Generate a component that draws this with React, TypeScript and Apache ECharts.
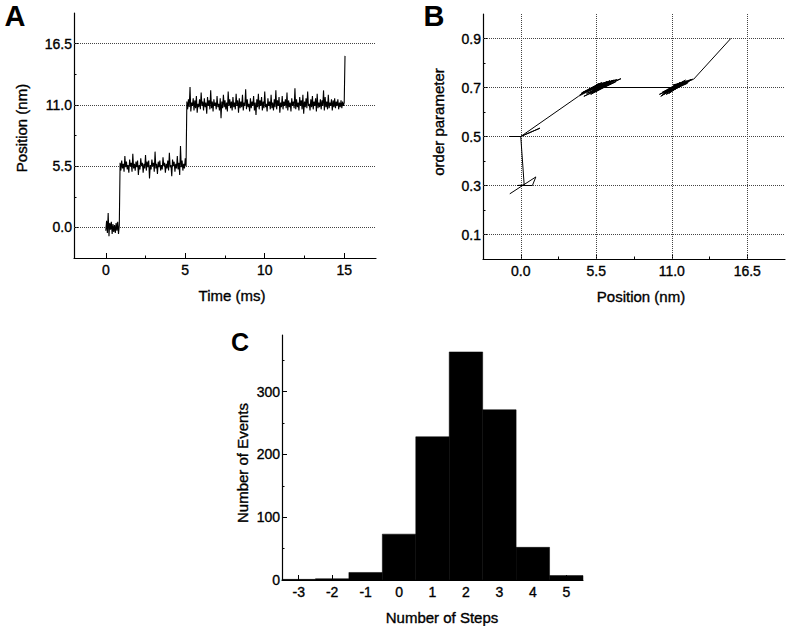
import { useEffect, useRef } from "react";
import * as echarts from "echarts";

const FONT = "'Liberation Sans', Arial, Helvetica, sans-serif";

// ---------- Panel A: position trace (sampled every A_STEP ms) ----------
const A_STEP = 0.05;
const aLevel0 = [-0.3, 0.6, -0.5, 1.3, -0.8, 0.4, -0.2, 0.5, -0.6, 0.3, -0.4, 0.2, -0.5, 0.4, -0.3, 0.5, -0.6, 0.2];
const aLevel1 = [
  5.8, 5.1, 6.0, 5.3, 5.7, 5.0, 6.4, 5.4, 5.9, 5.2, 5.6, 4.9, 6.1, 5.5, 5.8, 5.0, 6.6, 5.3, 5.7, 5.1,
  5.9, 5.4, 6.0, 4.7, 5.6, 5.2, 6.2, 5.5, 5.8, 4.9, 5.7, 5.3, 6.5, 5.1, 5.9, 5.4, 6.0, 4.4, 5.6, 5.2,
  6.1, 5.5, 5.8, 5.0, 6.8, 5.3, 5.7, 4.8, 5.9, 5.4, 6.0, 5.1, 5.6, 5.2, 6.3, 5.5, 5.8, 4.9, 5.7, 5.3,
  6.0, 5.1, 6.7, 5.4, 5.6, 4.6, 6.1, 5.5, 5.9, 5.0, 5.7, 5.3, 6.4, 5.2, 5.8, 4.7, 7.3, 5.4, 6.0, 5.1,
  5.7, 5.3, 6.2, 5.5,
];
const aLevel2 = [
  11.3, 10.6, 11.5, 10.8, 12.6, 10.4, 11.2, 10.9, 11.6, 10.5, 11.4, 10.7, 11.8, 10.3, 11.1, 10.8, 11.5, 10.6, 12.1, 10.9,
  11.3, 10.5, 11.6, 10.8, 11.2, 10.2, 11.7, 10.9, 11.4, 10.6, 12.3, 10.7, 11.3, 10.4, 11.5, 10.9, 11.2, 10.6, 11.8, 10.8,
  11.1, 10.5, 11.6, 9.8, 11.3, 10.7, 11.9, 10.8, 11.4, 10.6, 11.2, 10.4, 12.2, 10.9, 11.5, 10.7, 11.3, 10.5, 11.7, 10.8,
  11.2, 10.6, 12.0, 10.9, 11.4, 10.3, 11.6, 10.7, 11.3, 10.8, 11.9, 10.5, 11.2, 10.9, 12.4, 10.6, 11.5, 10.8, 11.1, 10.4,
  11.6, 10.7, 11.3, 10.9, 11.8, 10.5, 11.2, 10.1, 11.5, 10.8, 12.0, 10.6, 11.4, 10.9, 11.7, 10.5, 11.3, 10.7, 12.2, 10.8,
  11.1, 10.4, 11.6, 10.9, 11.3, 10.6, 11.9, 10.7, 11.2, 10.5, 11.5, 10.8, 12.3, 10.6, 11.4, 10.9, 11.7, 10.3, 11.2, 10.8,
  11.8, 10.6, 11.3, 10.9, 11.5, 10.7, 12.1, 10.5, 11.4, 10.8, 11.2, 10.4, 11.6, 10.9, 11.3, 10.7, 12.5, 10.6, 11.5, 10.8,
  11.2, 10.5, 11.7, 10.9, 11.4, 10.6, 11.9, 10.2, 11.3, 10.8, 11.6, 10.7, 12.2, 10.9, 11.1, 10.5, 11.5, 10.8, 11.8, 10.6,
  11.3, 10.9, 11.6, 10.4, 12.0, 10.7, 11.2, 10.8, 11.5, 10.6, 11.4, 10.9, 12.3, 10.5, 11.7, 10.8, 11.3, 10.6, 11.9, 10.7,
  11.2, 10.9, 11.5, 10.5, 11.4, 10.8, 11.6, 10.7, 11.3, 10.9, 11.5, 10.6, 11.2, 10.8, 11.4, 10.7, 11.3, 10.9, 11.2, 15.4,
];
const aXTicks = [0, 5, 10, 15];
const aXMinor = [2.5, 7.5, 12.5];
const aYTicks = [0, 5.5, 11, 16.5];
const aYMinor = [2.75, 8.25, 13.75];

// ---------- Panel B: order parameter vs position trajectory ----------
const bPosition = [
  -0.8, 1.1, 0.85, -0.25, 0.25, 0.0, -0.85, 0.0, 1.4, 0.0,
  4.2, 6.1, 4.7, 6.7, 5.0, 5.8, 4.4, 6.4, 5.3, 7.3, 5.1, 6.0, 4.6, 6.9, 5.6, 6.3, 4.9, 5.9, 4.3, 6.5,
  5.4, 6.2, 4.8, 7.0, 5.5, 6.6, 5.2, 5.7, 4.5, 6.8, 5.0, 6.1, 5.5,
  11.0,
  10.2, 11.7, 10.5, 12.1, 10.8, 11.5, 10.1, 12.2, 11.0, 12.5, 10.6, 11.8, 10.3, 12.0, 11.2, 11.9,
  10.7, 11.6, 10.4, 12.3, 10.9, 11.4, 10.6, 12.4, 11.1, 12.1, 10.8, 11.3, 10.3, 12.6,
  15.3,
];
const bOrder = [
  0.266, 0.335, 0.3, 0.3, 0.302, 0.5, 0.5, 0.5, 0.534, 0.5,
  0.664, 0.718, 0.684, 0.728, 0.676, 0.714, 0.676, 0.712, 0.696, 0.736, 0.672, 0.706, 0.664, 0.722, 0.706, 0.724, 0.69, 0.72, 0.67, 0.728,
  0.682, 0.708, 0.676, 0.732, 0.712, 0.716, 0.68, 0.716, 0.68, 0.73, 0.694, 0.712, 0.7,
  0.7,
  0.664, 0.718, 0.684, 0.726, 0.676, 0.714, 0.672, 0.72, 0.696, 0.734, 0.672, 0.712, 0.668, 0.73, 0.706, 0.724,
  0.69, 0.72, 0.676, 0.728, 0.684, 0.71, 0.678, 0.732, 0.71, 0.716, 0.682, 0.712, 0.68, 0.734,
  0.9,
];
const bXTicks = [0, 5.5, 11, 16.5];
const bXMinor = [2.75, 8.25, 13.75];
const bYTicks = [0.1, 0.3, 0.5, 0.7, 0.9];
const bYMinor = [0.2, 0.4, 0.6, 0.8];

// ---------- Panel C: histogram ----------
const cSteps = [-3, -2, -1, 0, 1, 2, 3, 4, 5];
const cEvents = [1, 2, 12, 73, 228, 363, 271, 52, 7];
const cYTicks = [0, 100, 200, 300];
const cYMinor = [50, 150, 250, 350];

const majorAxis = (gridIndex: number, min: number, max: number, ticks: number[], fmt: (v: number) => string, position: string) => ({
  type: "value",
  gridIndex,
  min,
  max,
  position,
  offset: 0,
  axisLine: { show: true, onZero: false, lineStyle: { color: "#000", width: 1.2 } },
  axisTick: { show: true, inside: true, length: 5, customValues: ticks, lineStyle: { color: "#000", width: 1 } },
  axisLabel: {
    show: true,
    customValues: ticks,
    formatter: fmt,
    fontSize: 14,
    color: "#000",
    textBorderColor: "#000",
    textBorderWidth: 0.35,
    fontFamily: FONT,
    margin: position === "left" ? 2 : 5,
  },
  splitLine: { show: false },
});

const minorAxis = (gridIndex: number, min: number, max: number, ticks: number[], position: string) => ({
  type: "value",
  gridIndex,
  min,
  max,
  position,
  offset: 0,
  axisLine: { show: false, onZero: false },
  axisTick: { show: true, inside: true, length: 2.5, customValues: ticks, lineStyle: { color: "#000", width: 1 } },
  axisLabel: { show: false },
  splitLine: { show: false },
});

const gridLineStyle = { type: [1, 1], color: "#444", width: 1 };

export default function App() {
  const ref = useRef<HTMLDivElement>(null);
  useEffect(() => {
    document.body.style.margin = "0";
    if (!ref.current) return;
    const chart = echarts.init(ref.current, null, { renderer: "svg" });

    const aValues = [...aLevel0, ...aLevel1, ...aLevel2];
    const aData = aValues.map((v, i) => [Number((i * A_STEP).toFixed(2)), v]);
    const bData = bPosition.map((x, i) => [x, bOrder[i]]);
    const cData = cSteps.map((s, i) => [s, cEvents[i]]);

    const fixed1 = (v: number) => Number(v).toFixed(1);
    const plain = (v: number) => String(v);

    const text = (t: string, x: number, y: number, size: number, rot = 0, bold = false) => ({
      type: "text",
      x,
      y,
      rotation: rot,
      silent: true,
      style: {
        text: t,
        fontSize: size,
        fontWeight: bold ? "bold" : "normal",
        fontFamily: FONT,
        fill: "#000",
        stroke: bold ? undefined : "#000",
        lineWidth: bold ? 0 : 0.35,
        align: "center",
        verticalAlign: "middle",
      },
    });

    chart.setOption({
      animation: false,
      backgroundColor: "#fff",
      grid: [
        { left: 74, top: 13, width: 302, height: 245 },
        { left: 483, top: 14, width: 302, height: 245 },
        { left: 282, top: 335, width: 301, height: 245 },
      ],
      xAxis: [
        majorAxis(0, -2, 17, aXTicks, plain, "bottom"),
        minorAxis(0, -2, 17, aXMinor, "bottom"),
        majorAxis(1, -2.75, 19.25, bXTicks, fixed1, "bottom"),
        minorAxis(1, -2.75, 19.25, bXMinor, "bottom"),
        majorAxis(2, -3.5, 5.5, cSteps, plain, "bottom"),
      ],
      yAxis: [
        majorAxis(0, -2.75, 19.25, aYTicks, fixed1, "left"),
        minorAxis(0, -2.75, 19.25, aYMinor, "left"),
        majorAxis(1, 0, 1, bYTicks, fixed1, "left"),
        minorAxis(1, 0, 1, bYMinor, "left"),
        majorAxis(2, 0, 390, cYTicks, plain, "left"),
        minorAxis(2, 0, 390, cYMinor, "left"),
      ],
      series: [
        {
          type: "line",
          xAxisIndex: 0,
          yAxisIndex: 0,
          data: aData,
          showSymbol: false,
          symbol: "none",
          silent: true,
          z: 3,
          lineStyle: { color: "#000", width: 1.1 },
          markLine: {
            silent: true,
            symbol: ["none", "none"],
            label: { show: false },
            lineStyle: gridLineStyle,
            z: 1,
            data: aYTicks.map((v) => ({ yAxis: v })),
          },
        },
        {
          type: "line",
          xAxisIndex: 2,
          yAxisIndex: 2,
          data: bData,
          showSymbol: false,
          symbol: "none",
          silent: true,
          z: 3,
          lineStyle: { color: "#000", width: 1 },
          markLine: {
            silent: true,
            symbol: ["none", "none"],
            label: { show: false },
            lineStyle: gridLineStyle,
            z: 1,
            data: [...bYTicks.map((v) => ({ yAxis: v })), ...bXTicks.map((v) => ({ xAxis: v }))],
          },
        },
        {
          type: "custom",
          xAxisIndex: 4,
          yAxisIndex: 4,
          data: cData,
          silent: true,
          renderItem: (_params: any, api: any) => {
            const x = api.value(0);
            const y = api.value(1);
            const p0 = api.coord([x - 0.5, y]);
            const p1 = api.coord([x + 0.5, 0]);
            return {
              type: "rect",
              shape: { x: p0[0], y: p0[1], width: p1[0] - p0[0], height: p1[1] - p0[1] },
              style: { fill: "#000", stroke: "#000", lineWidth: 0.5 },
            };
          },
        },
      ],
      graphic: [
        text("A", 15, 16, 29, 0, true),
        text("B", 434, 16, 29, 0, true),
        text("C", 240, 342, 25, 0, true),
        text("Position (nm)", 21, 128, 15, Math.PI / 2),
        text("Time (ms)", 232, 295, 15),
        text("order parameter", 438, 122, 15, Math.PI / 2),
        text("Position (nm)", 641, 296, 15),
        text("Number of Events", 242, 463, 15, Math.PI / 2),
        text("Number of Steps", 442, 617, 15),
      ],
    });
    return () => chart.dispose();
  }, []);
  return <div ref={ref} style={{ width: 788, height: 626 }} />;
}
